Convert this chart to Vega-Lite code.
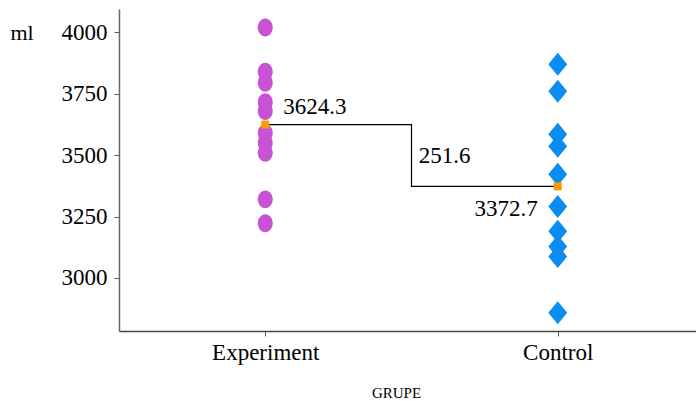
{
  "$schema": "https://vega.github.io/schema/vega-lite/v6.json",
  "autosize": "none",
  "width": 585,
  "height": 322,
  "padding": {"left": 119, "top": 9, "right": 0, "bottom": 70},
  "background": "white",
  "config": {
    "view": {"stroke": null},
    "font": "Liberation Serif",
    "mark": {"font": "Liberation Serif"},
    "axis": {"labelFont": "Liberation Serif", "titleFont": "Liberation Serif"},
    "text": {"font": "Liberation Serif"}
  },
  "datasets": {
    "points": [
      {"GRUPE": "Experiment", "ml": 4020},
      {"GRUPE": "Experiment", "ml": 3840},
      {"GRUPE": "Experiment", "ml": 3795},
      {"GRUPE": "Experiment", "ml": 3715},
      {"GRUPE": "Experiment", "ml": 3680},
      {"GRUPE": "Experiment", "ml": 3590},
      {"GRUPE": "Experiment", "ml": 3550},
      {"GRUPE": "Experiment", "ml": 3510},
      {"GRUPE": "Experiment", "ml": 3320},
      {"GRUPE": "Experiment", "ml": 3223},
      {"GRUPE": "Control", "ml": 3870},
      {"GRUPE": "Control", "ml": 3760},
      {"GRUPE": "Control", "ml": 3585},
      {"GRUPE": "Control", "ml": 3536},
      {"GRUPE": "Control", "ml": 3422},
      {"GRUPE": "Control", "ml": 3291},
      {"GRUPE": "Control", "ml": 3190},
      {"GRUPE": "Control", "ml": 3128},
      {"GRUPE": "Control", "ml": 3087},
      {"GRUPE": "Control", "ml": 2858}
    ],
    "means": [
      {"GRUPE": "Experiment", "ml": 3624.3},
      {"GRUPE": "Control", "ml": 3372.7}
    ],
    "diff": [
      {"GRUPE": "Control", "ml": 3498.5, "diff": 251.6}
    ]
  },
  "encoding": {
    "x": {
      "field": "GRUPE", "type": "nominal",
      "scale": {"type": "point", "padding": 0.5, "domain": ["Experiment", "Control"]},
      "axis": {
        "title": "GRUPE", "titleFontSize": 15, "titleFontWeight": "normal", "titleColor": "black",
        "titleFont": "Liberation Serif",
        "titleX": 277, "titleY": 61, "titleBaseline": "middle", "titleAlign": "center",
        "labelAngle": 0, "labelFontSize": 23, "labelColor": "black", "labelPadding": 5,
        "labelFont": "Liberation Serif",
        "tickSize": 5, "tickColor": "#555", "domainColor": "#444", "domainWidth": 1.5, "grid": false
      }
    },
    "y": {
      "field": "ml", "type": "quantitative",
      "scale": {"domain": [2784, 4095], "nice": false, "zero": false},
      "axis": {
        "values": [3000, 3250, 3500, 3750, 4000], "grid": false, "format": "d",
        "title": "ml", "titleAngle": 0, "titleX": -109, "titleY": 23, "titleAlign": "left",
        "titleBaseline": "middle", "titleFontWeight": "normal", "titleFontSize": 22, "titleColor": "black",
        "titleFont": "Liberation Serif",
        "labelFontSize": 23, "labelColor": "black", "labelPadding": 7,
        "labelFont": "Liberation Serif",
        "tickSize": 5, "tickColor": "#555", "domainColor": "#666", "domainWidth": 1.5
      }
    }
  },
  "layer": [
    {
      "data": {"name": "points"},
      "mark": {"type": "point", "filled": true, "opacity": 1, "size": 529},
      "encoding": {
        "shape": {
          "field": "GRUPE", "type": "nominal",
          "scale": {"domain": ["Experiment", "Control"], "range": [
            "M 0 -0.78 C 0.359 -0.78 0.65 -0.431 0.65 0 C 0.65 0.431 0.359 0.78 0 0.78 C -0.359 0.78 -0.65 0.431 -0.65 0 C -0.65 -0.431 -0.359 -0.78 0 -0.78 Z",
            "M 0 -1 L 0.82 0 L 0 1 L -0.82 0 Z"
          ]},
          "legend": null
        },
        "color": {
          "field": "GRUPE", "type": "nominal",
          "scale": {"domain": ["Experiment", "Control"], "range": ["#C952D4", "#0A8CF0"]},
          "legend": null
        }
      }
    },
    {
      "data": {"name": "means"},
      "mark": {"type": "line", "interpolate": "step", "color": "black", "strokeWidth": 1.2},
      "encoding": {}
    },
    {
      "data": {"name": "means"},
      "mark": {"type": "point", "shape": "square", "filled": true, "opacity": 1, "color": "#FF9900", "size": 64},
      "encoding": {}
    },
    {
      "data": {"name": "means"},
      "transform": [{"filter": "datum.GRUPE === 'Experiment'"}],
      "mark": {"type": "text", "font": "Liberation Serif", "align": "left", "baseline": "middle", "dx": 18, "dy": -18, "fontSize": 23, "color": "black"},
      "encoding": {"text": {"field": "ml", "type": "quantitative", "format": ".1f"}}
    },
    {
      "data": {"name": "means"},
      "transform": [{"filter": "datum.GRUPE === 'Control'"}],
      "mark": {"type": "text", "font": "Liberation Serif", "align": "right", "baseline": "middle", "dx": -20, "dy": 23, "fontSize": 23, "color": "black"},
      "encoding": {"text": {"field": "ml", "type": "quantitative", "format": ".1f"}}
    },
    {
      "data": {"name": "diff"},
      "mark": {"type": "text", "font": "Liberation Serif", "align": "left", "baseline": "middle", "dx": -139, "dy": 0, "fontSize": 23, "color": "black"},
      "encoding": {"text": {"field": "diff", "type": "quantitative", "format": ".1f"}}
    }
  ]
}
